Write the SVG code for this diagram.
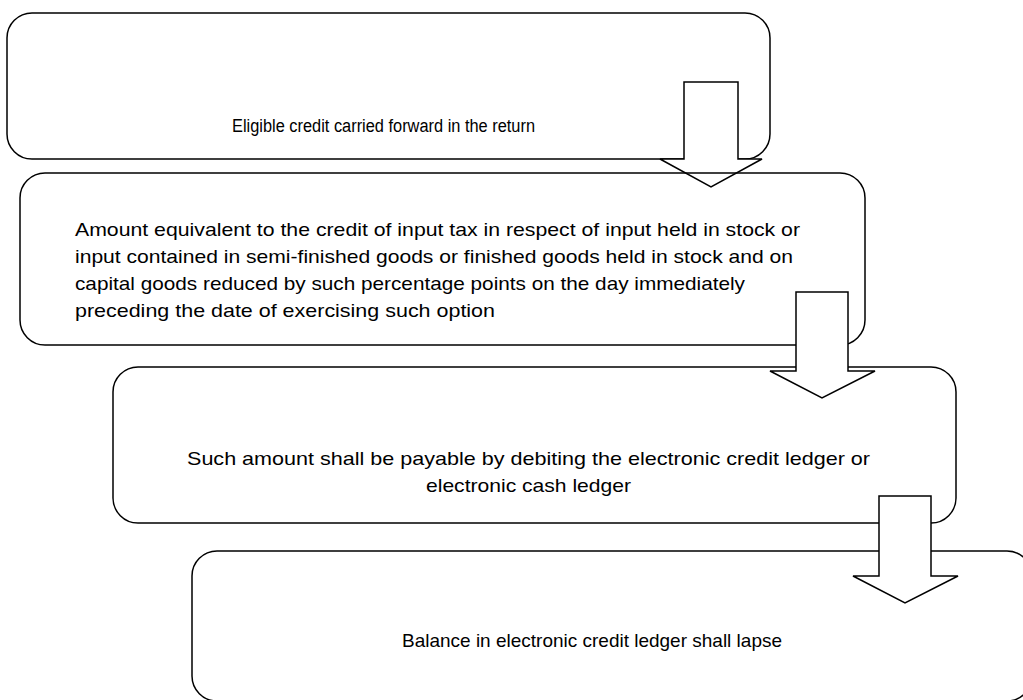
<svg xmlns="http://www.w3.org/2000/svg" width="1023" height="700" viewBox="0 0 1023 700">
<style>
.box{fill:none;stroke:#000;stroke-width:1.5}
.wbox{fill:#fff;stroke:#000;stroke-width:1.5}
.arr{fill:#fff;stroke:#000;stroke-width:1.5;stroke-linejoin:miter}
text{font-family:"Liberation Sans",Arial,sans-serif;font-size:19px;fill:#000}
.t1{font-size:18px}
</style>
<rect width="1023" height="700" fill="#fff"/>
<g id="node1"><rect class="wbox" x="7" y="13" width="763" height="146" rx="25"/>
<text class="t1" x="232" y="132" textLength="303" lengthAdjust="spacingAndGlyphs">Eligible credit carried forward in the return</text></g>
<g id="connectors1"><path class="arr" d="M684 82H738V159H762L711 187L660 159H684Z"/></g>
<g id="node2"><rect class="box" x="20" y="173" width="845" height="172" rx="25"/>
<text x="75" y="236" textLength="725" lengthAdjust="spacingAndGlyphs">Amount equivalent to the credit of input tax in respect of input held in stock or</text>
<text x="75" y="263" textLength="718" lengthAdjust="spacingAndGlyphs">input contained in semi-finished goods or finished goods held in stock and on</text>
<text x="75" y="290" textLength="670" lengthAdjust="spacingAndGlyphs">capital goods reduced by such percentage points on the day immediately</text>
<text x="75" y="317" textLength="420" lengthAdjust="spacingAndGlyphs">preceding the date of exercising such option</text></g>
<g id="node3"><rect class="wbox" x="113" y="367" width="843" height="156" rx="25"/>
<text x="187" y="465" textLength="683" lengthAdjust="spacingAndGlyphs">Such amount shall be payable by debiting the electronic credit ledger or</text>
<text x="426" y="492" textLength="205" lengthAdjust="spacingAndGlyphs">electronic cash ledger</text></g>
<g id="connectors2"><path class="arr" d="M796 292H848V371H875L822 398L770 371H796Z"/></g>
<g id="node4"><rect class="wbox" x="192" y="551" width="840" height="150" rx="25"/>
<text x="402" y="647" textLength="380" lengthAdjust="spacingAndGlyphs">Balance in electronic credit ledger shall lapse</text></g>
<g id="connectors3"><path class="arr" d="M879 496H931V576H958L905 603L853 576H879Z"/></g>
</svg>
